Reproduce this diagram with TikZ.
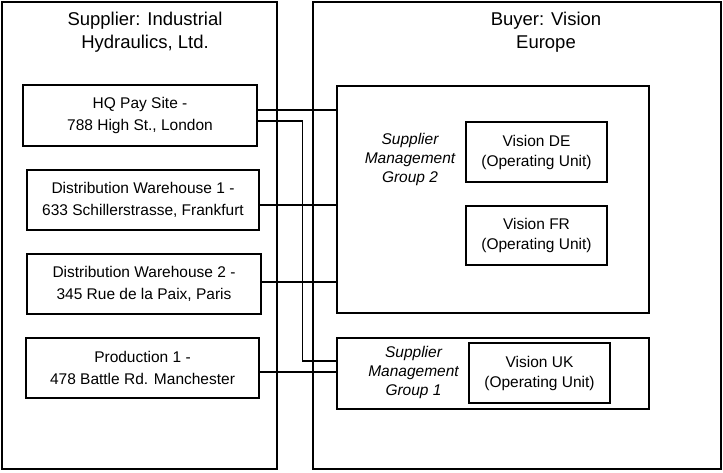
\documentclass[tikz,border=0pt]{standalone}
\usepackage{fontspec}
\setmainfont{Liberation Sans}
\begin{document}
\begin{tikzpicture}[x=1pt,y=-1pt,
  box/.style={draw,line width=1.1pt,inner sep=0pt,align=center,font=\fontsize{15.5}{22.5}\selectfont},
  frame/.style={draw,line width=1.1pt,inner sep=0pt},
  title/.style={align=center,font=\fontsize{18.5}{23}\selectfont},
  grp/.style={align=center,font=\fontsize{15.5}{19}\selectfont\itshape},
  ou/.style={box,font=\fontsize{15.5}{20}\selectfont},
  conn/.style={line width=1.1pt}]
\useasboundingbox (0,0) rectangle (723,472);
% frames
\node[frame,minimum width=275pt,minimum height=467pt] (sup) at (139.5,235.5) {};
\node[frame,minimum width=408pt,minimum height=467pt] (buy) at (517,235.5) {};
\node[title] (suptitle) at (145,32.5) {Supplier: Industrial\\Hydraulics, Ltd.};
\node[title] (buytitle) at (546,32.5) {Buyer: Vision\\Europe};
% supplier sites
\node[box,minimum width=234pt,minimum height=61pt] (hq) at (140,115.5) {HQ Pay Site -\\788 High St., London};
\node[box,minimum width=232pt,minimum height=60pt] (dw1) at (143,200) {Distribution Warehouse 1 -\\633 Schillerstrasse, Frankfurt};
\node[box,minimum width=234pt,minimum height=60pt] (dw2) at (144,284) {Distribution Warehouse 2 -\\345 Rue de la Paix, Paris};
\node[box,minimum width=233pt,minimum height=60pt] (prod) at (142.5,368) {Production 1 -\\478 Battle Rd. Manchester};
% groups
\node[frame,minimum width=312pt,minimum height=227pt] (g2) at (493,199.5) {};
\node[frame,minimum width=312pt,minimum height=71pt] (g1) at (493,373.5) {};
\node[grp] (g2lab) at (410,159) {Supplier\\Management\\Group 2};
\node[grp] (g1lab) at (413.5,372) {Supplier\\Management\\Group 1};
\node[ou,minimum width=141pt,minimum height=60pt] (de) at (536.5,152) {Vision DE\\(Operating Unit)};
\node[ou,minimum width=141pt,minimum height=59pt] (fr) at (536.5,235.5) {Vision FR\\(Operating Unit)};
\node[ou,minimum width=141pt,minimum height=60pt] (uk) at (539.5,373) {Vision UK\\(Operating Unit)};
% connector points
\coordinate (hqa) at ([yshift=5.5pt]hq.east);
\coordinate (hqb) at ([yshift=-5.5pt]hq.east);
\coordinate (g1a) at ([yshift=12.5pt]g1.west);
\coordinate (dw1a) at ([yshift=-5pt]dw1.east);
\coordinate (dw2a) at ([yshift=2pt]dw2.east);
\coordinate (proda) at ([yshift=-4pt]prod.east);
% connectors
\draw[conn] (hqa) -- (hqa -| g2.west);
\draw[conn] (hqb) -- ++(45,0) |- (g1a);
\draw[conn] (dw1a) -- (dw1a -| g2.west);
\draw[conn] (dw2a) -- (dw2a -| g2.west);
\draw[conn] (proda) -- (proda -| g1.west);
\end{tikzpicture}
\end{document}
